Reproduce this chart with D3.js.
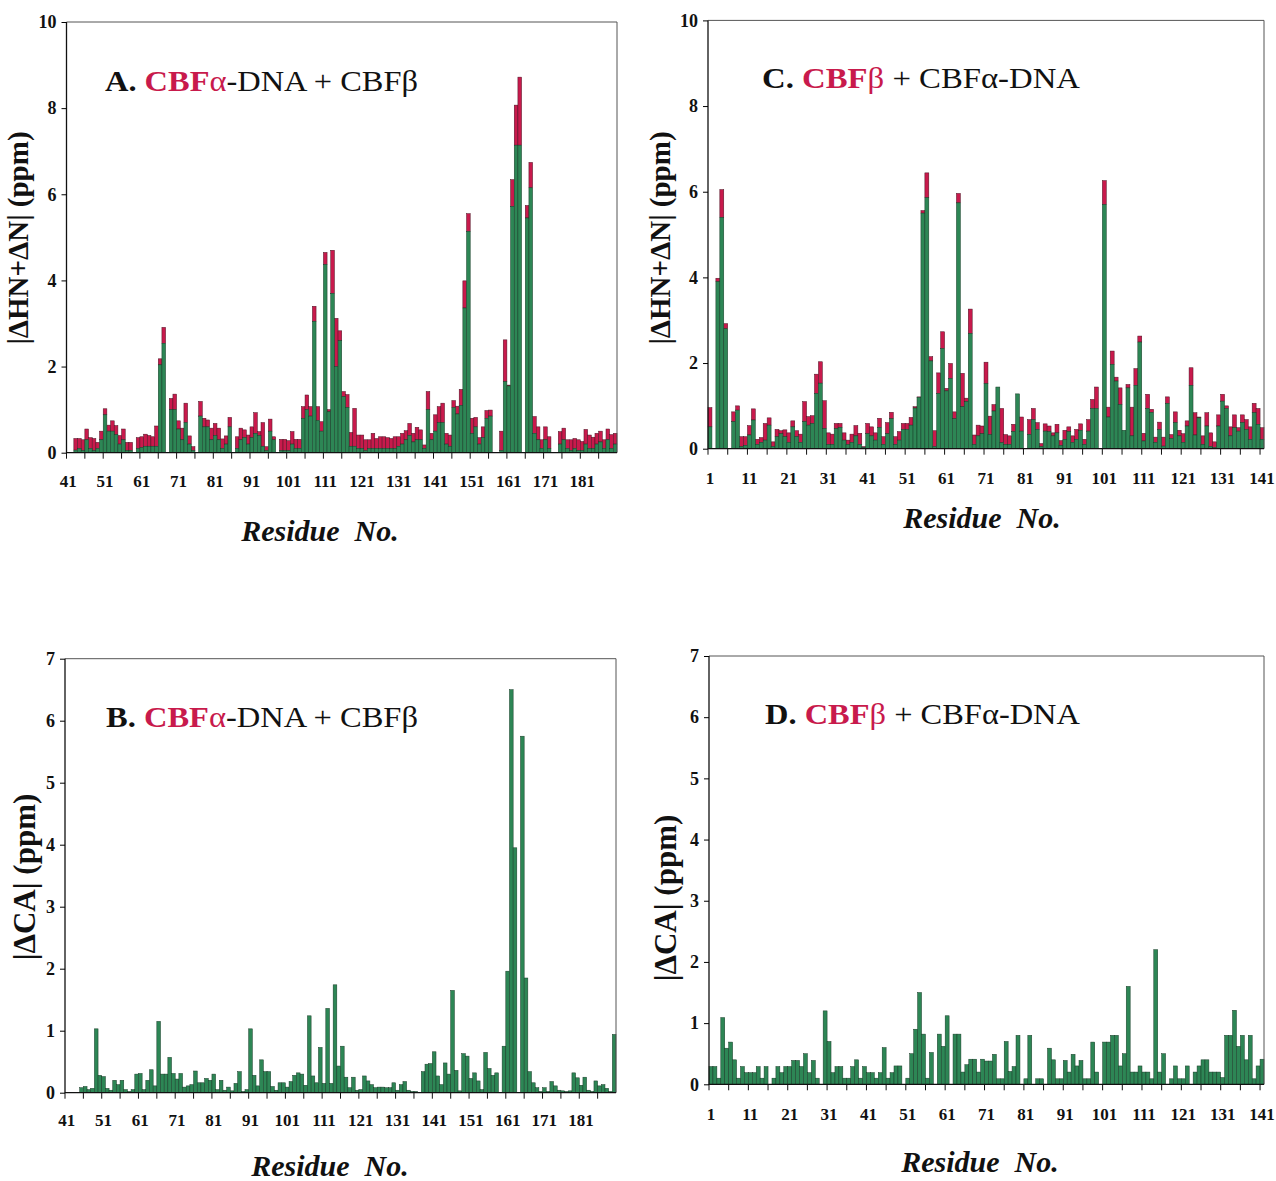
<!DOCTYPE html>
<html>
<head>
<meta charset="utf-8">
<script src="https://cdn.jsdelivr.net/npm/d3@7"></script>
<style>
body { margin: 0; background: #fff; }
svg text { font-family: "Liberation Serif", "Times New Roman", serif; }
</style>
</head>
<body>
<script>
// ---- data ----
// panel A: CBFalpha residues 41-190, total |dHN+dN| and green part
var startA = 41;
var totA = [0, 0, .33, .33, .30, .55, .35, .33, .24, .50,
    1.02, .64, .74, .63, .40, .55, .24, .24, 0, .35,
    .37, .43, .40, .37, .62, 2.18, 2.91, 0, 1.26, 1.36,
    .74, .57, 1.15, .39, .14, 0, 1.19, .80, .76, .57,
    .68, .57, .32, .39, .82, 0, .37, .57, .53, .41,
    .60, .93, .49, .70, .14, .78, .37, 0, .31, .31,
    .28, .49, .31, .31, 1.07, 1.34, 1.07, 3.40, 1.07, .72,
    4.65, 1.00, 4.70, 3.12, 2.83, 1.42, 1.35, .47, 1.03, .41,
    .41, .30, .30, .45, .33, .37, .37, .35, .33, .37,
    .37, .45, .51, .68, .45, .59, .53, .18, 1.42, .45,
    .88, 1.07, 1.15, .45, .41, 1.21, 1.08, 1.47, 3.99, 5.55,
    .80, .82, .35, .60, .98, .99, 0, 0, .50, 2.62,
    1.57, 6.34, 8.07, 8.72, 0, 5.74, 6.74, .84, .60, .30,
    .60, .37, 0, 0, .49, .57, .30, .30, .33, .30,
    .26, .54, .41, .36, .45, .50, .30, .55, .42, .45];
var grnA = [0, 0, .06, .10, .05, .30, .10, .05, .10, .30,
    .88, .50, .50, .42, .20, .30, .05, .05, 0, .10,
    .12, .15, .15, .15, .15, 2.04, 2.54, 0, 1.00, 1.00,
    .55, .30, .70, .20, .05, 0, .85, .60, .60, .30,
    .40, .30, .10, .20, .60, 0, .10, .30, .35, .20,
    .35, .45, .40, .15, .05, .50, .30, 0, .05, .05,
    .05, .20, .10, .10, .80, 1.00, .85, 3.05, .75, .50,
    4.37, .95, 3.70, 2.00, 2.60, 1.30, 1.05, .15, .15, .10,
    .10, .05, .10, .10, .10, .10, .10, .10, .10, .10,
    .15, .20, .30, .40, .25, .30, .30, .10, 1.00, .30,
    .50, .70, .70, .20, .15, 1.05, .90, 1.10, 3.36, 5.14,
    .45, .60, .20, .35, .80, .85, 0, 0, .05, 1.65,
    1.55, 5.72, 7.14, 7.14, 0, 5.45, 6.15, .45, .30, .10,
    .30, .10, 0, 0, .20, .30, .10, .05, .10, .05,
    .05, .20, .10, .10, .20, .25, .10, .30, .10, .20];

// panel C: CBFbeta residues 1-141
var startC = 1;
var totC = [.96, 0, 3.98, 6.05, 2.92, 0, .86, 1.00, .28, .28,
    .54, .93, .22, .26, .59, .72, .16, .45, .42, .44,
    .37, .65, .42, .34, 1.10, .75, .77, 1.74, 2.03, 1.12,
    .37, .34, .59, .59, .37, .20, .34, .54, .36, .05,
    .59, .51, .37, .71, .28, .61, .85, .28, .40, .59,
    .59, .73, .98, 1.21, 5.56, 6.44, 2.15, .42, 1.77, 2.73,
    1.41, 1.99, .86, 5.96, 1.76, 1.18, 3.26, .32, .55, .53,
    2.02, .76, 1.03, 1.44, .94, .33, .30, .57, 1.28, .74,
    0, .68, .94, .61, .12, .58, .53, .37, .57, .19,
    .43, .51, .30, .45, .58, .22, .68, 1.15, 1.44, 0,
    6.26, .97, 2.28, 1.67, 1.42, .43, 1.50, .97, 1.87, 2.63,
    .36, 1.27, .92, .27, .62, .27, 1.21, .33, .86, .43,
    .35, .65, 1.89, .84, .74, .30, .84, .37, .16, .79,
    1.27, 1.00, .51, .79, .49, .79, .68, .51, 1.06, .94, .49];
var grnC = [.51, 0, 3.90, 5.40, 2.80, 0, .63, .90, .05, .08,
    .32, .67, .10, .15, .20, .55, .05, .28, .35, .28,
    .15, .51, .28, .15, .63, .55, .59, 1.29, 1.53, .47,
    .10, .10, .47, .50, .20, .10, .15, .30, .10, .03,
    .35, .30, .20, .50, .10, .35, .70, .10, .20, .45,
    .45, .55, .95, 1.20, 5.50, 5.86, 2.05, .05, 1.29, 2.34,
    1.35, 1.64, .70, 5.74, .98, 1.10, 2.69, .10, .30, .35,
    1.52, .33, .88, 1.44, .14, .10, .10, .40, 1.28, .41,
    0, .33, .68, .45, .05, .41, .40, .30, .37, .08,
    .22, .40, .15, .22, .43, .10, .41, .94, .94, 0,
    5.70, .74, 1.97, 1.58, 1.03, .43, 1.42, .30, 1.48, 2.49,
    .18, .94, .85, .15, .45, .06, 1.06, .24, .61, .30,
    .15, .53, 1.48, .32, .72, .10, .53, .05, .03, .53,
    1.11, .94, .30, .49, .41, .61, .45, .22, .84, .57, .22];

// panel B: |dCA| CBFalpha residues 41-190
var caB = [0, 0, 0, 0, .08, .10, .05, .07, 1.03, .28,
    .26, .07, .04, .20, .13, .20, .05, .02, .05, .30,
    .31, .05, .20, .37, .11, 1.15, .30, .30, .57, .31,
    .22, .31, .09, .11, .13, .35, .16, .16, .23, .20,
    .30, .05, .20, .04, .09, .03, .15, .34, .02, .05,
    1.03, .28, .11, .53, .34, .34, .10, .04, .16, .16,
    .09, .18, .28, .32, .30, .12, 1.24, .27, .16, .73,
    .15, 1.36, .15, 1.74, .43, .75, .25, .08, .25, .04,
    .05, .27, .19, .13, .08, .09, .09, .08, .08, .16,
    .04, .13, .18, .04, .02, .02, 0, .34, .46, .47,
    .66, .27, .13, .48, .30, 1.65, .36, .03, .63, .59,
    .23, .32, .19, .05, .65, .39, .28, .32, 0, .75,
    1.96, 6.50, 3.95, 0, 5.75, 1.85, .34, .16, .08, .02,
    .08, .02, .18, .11, .04, .03, .02, .03, .32, .24,
    .12, .25, .04, .02, .19, .11, .13, .07, .02, .94];

// panel D: |dCA| CBFbeta residues 1-141
var caD = [.29, .29, .10, 1.09, .59, .69, .40, .10, .29, .19,
    .19, .19, .29, .10, .29, 0, .10, .29, .19, .29,
    .29, .39, .39, .29, .50, .19, .39, .10, 0, 1.20,
    .70, .19, .29, .29, .10, .10, .29, .40, .10, .29,
    .19, .19, .10, .19, .60, .10, .19, .30, .30, 0,
    .10, .50, .90, 1.50, .82, .10, .52, 0, .82, .62,
    1.12, 0, .82, .82, .20, .32, .41, .41, .20, .41,
    .38, .38, .49, .09, .09, .70, .21, .29, .80, 0,
    .09, .80, 0, .09, .09, 0, .59, .40, .09, .09,
    .39, .20, .49, .30, .39, .09, .09, .69, .20, 0,
    .69, .69, .80, .80, .30, .50, 1.60, .20, .20, .30,
    .20, .20, .09, 2.20, .20, .50, 0, .09, .30, .09,
    .09, .30, 0, .20, .30, .40, .40, .20, .20, .20,
    .11, .80, .80, 1.21, .62, .80, .40, .80, .09, .30, .41];

// tick labels
var xLabelsAlpha = [41, 51, 61, 71, 81, 91, 101, 111, 121, 131, 141, 151, 161, 171, 181];
var xLabelsBeta = [1, 11, 21, 31, 41, 51, 61, 71, 81, 91, 101, 111, 121, 131, 141];
var yTicksShift = [0, 2, 4, 6, 8, 10];
var yTicksCA = [0, 1, 2, 3, 4, 5, 6, 7];

var GREEN = "#2d8655", RED = "#c81a4c";

var svg = d3.select("body").append("svg")
    .attr("width", 1276)
    .attr("height", 1181);

function drawPanel(p){
    var res = d3.range(p.start, p.start + p.total.length);
    var x = d3.scaleBand().domain(res).range([p.left, p.right]);
    var y = d3.scaleLinear().domain([0, p.ymax]).range([p.base, p.top]);
    var g = svg.append("g");

    var rows = res.map(function(r, i){
        return {r: r, tot: p.total[i], grn: p.green ? p.green[i] : p.total[i]};
    }).filter(function(d){ return d.tot > 0; });

    // red top part (only on the stacked panels)
    g.selectAll(".red").data(rows.filter(function(d){ return d.tot > d.grn; }))
        .enter().append("rect")
        .attr("x", function(d){ return x(d.r); })
        .attr("width", x.bandwidth())
        .attr("y", function(d){ return y(d.tot); })
        .attr("height", function(d){ return y(d.grn) - y(d.tot); })
        .attr("fill", RED).attr("stroke", "#4a1222").attr("stroke-width", 0.5);

    g.selectAll(".grn").data(rows.filter(function(d){ return d.grn > 0; }))
        .enter().append("rect")
        .attr("x", function(d){ return x(d.r); })
        .attr("width", x.bandwidth())
        .attr("y", function(d){ return y(d.grn); })
        .attr("height", function(d){ return y(0) - y(d.grn); })
        .attr("fill", GREEN).attr("stroke", "#173a26").attr("stroke-width", 0.5);

    // frame
    g.append("path")
        .attr("d", "M" + p.left + "," + p.top + "H" + p.right + "V" + p.base)
        .attr("fill", "none").attr("stroke", "#555").attr("stroke-width", 1);
    g.append("path")
        .attr("d", "M" + p.left + "," + p.top + "V" + p.base + "H" + p.right)
        .attr("fill", "none").attr("stroke", "#111").attr("stroke-width", 1.3);

    // y axis
    var ya = g.append("g").attr("transform", "translate(" + p.left + ",0)")
        .call(d3.axisLeft(y).tickValues(p.yticks).tickFormat(d3.format("d"))
            .tickSize(5).tickPadding(5));
    ya.select(".domain").remove();
    ya.selectAll("text").attr("font-size", 18).attr("font-weight", "bold")
        .attr("font-family", "Liberation Serif").attr("fill", "#111");

    // x ticks every 5 residues, at the band edges
    g.selectAll(".xt").data(res.filter(function(r){ return (r - p.start) % 5 === 0; }))
        .enter().append("line")
        .attr("x1", function(r){ return x(r); }).attr("x2", function(r){ return x(r); })
        .attr("y1", p.base).attr("y2", p.base + 6)
        .attr("stroke", "#111").attr("stroke-width", 1);
    g.selectAll(".xl").data(p.xlabels).enter().append("text")
        .attr("x", function(r){ return x(r) + x.bandwidth() / 2; })
        .attr("y", p.xlabY)
        .attr("text-anchor", "middle")
        .attr("font-size", 17).attr("font-weight", "bold").attr("fill", "#111")
        .text(function(r){ return r; });

    // axis titles
    g.append("text")
        .attr("transform", "translate(" + p.ytitleX + "," + p.ytitleY + ") rotate(-90)")
        .attr("text-anchor", "middle")
        .attr("font-size", p.ytitleSize).attr("font-weight", "bold").attr("fill", "#111")
        .text(p.ytitle);
    g.append("text")
        .attr("x", p.xtitleX).attr("y", p.xtitleY)
        .attr("text-anchor", "middle")
        .attr("font-size", 30).attr("font-weight", "bold").attr("font-style", "italic")
        .attr("fill", "#111")
        .attr("xml:space", "preserve")
        .text("Residue  No.");

    // panel title
    var t = g.append("text").attr("x", p.titleX).attr("y", p.titleY)
        .attr("font-size", 30).attr("xml:space", "preserve")
        .attr("textLength", p.titleLen).attr("lengthAdjust", "spacingAndGlyphs");
    p.title.forEach(function(s){
        t.append("tspan").text(s[0])
            .attr("fill", s[1] ? RED : "#111")
            .attr("font-weight", s[2] ? "bold" : "normal");
    });
}

drawPanel({start: startA, total: totA, green: grnA, ymax: 10, yticks: yTicksShift,
    left: 66.5, right: 617, top: 22, base: 452.7, xlabels: xLabelsAlpha, xlabY: 487,
    ytitle: "|\u0394HN+\u0394N| (ppm)", ytitleSize: 29, ytitleX: 28, ytitleY: 238,
    xtitleX: 320, xtitleY: 541,
    titleX: 105, titleY: 91, titleLen: 313,
    title: [["A. ", 0, 1], ["CBF", 1, 1], ["\u03b1", 1, 0], ["-DNA + CBF\u03b2", 0, 0]]});

drawPanel({start: startC, total: totC, green: grnC, ymax: 10, yticks: yTicksShift,
    left: 708, right: 1264, top: 20.4, base: 448.7, xlabels: xLabelsBeta, xlabY: 484,
    ytitle: "|\u0394HN+\u0394N| (ppm)", ytitleSize: 29, ytitleX: 670, ytitleY: 238,
    xtitleX: 982, xtitleY: 528,
    titleX: 762, titleY: 88, titleLen: 318,
    title: [["C. ", 0, 1], ["CBF", 1, 1], ["\u03b2", 1, 0], [" + CBF\u03b1-DNA", 0, 0]]});

drawPanel({start: startA, total: caB, ymax: 7, yticks: yTicksCA,
    left: 65, right: 616, top: 658.7, base: 1092.7, xlabels: xLabelsAlpha, xlabY: 1126,
    ytitle: "|\u0394CA| (ppm)", ytitleSize: 31, ytitleX: 35, ytitleY: 877,
    xtitleX: 330, xtitleY: 1176,
    titleX: 106, titleY: 727, titleLen: 312,
    title: [["B. ", 0, 1], ["CBF", 1, 1], ["\u03b1", 1, 0], ["-DNA + CBF\u03b2", 0, 0]]});

drawPanel({start: startC, total: caD, ymax: 7, yticks: yTicksCA,
    left: 709, right: 1264, top: 656, base: 1084.3, xlabels: xLabelsBeta, xlabY: 1120,
    ytitle: "|\u0394CA| (ppm)", ytitleSize: 31, ytitleX: 676, ytitleY: 898,
    xtitleX: 980, xtitleY: 1172,
    titleX: 765, titleY: 724, titleLen: 315,
    title: [["D. ", 0, 1], ["CBF", 1, 1], ["\u03b2", 1, 0], [" + CBF\u03b1-DNA", 0, 0]]});
</script>
</body>
</html>
